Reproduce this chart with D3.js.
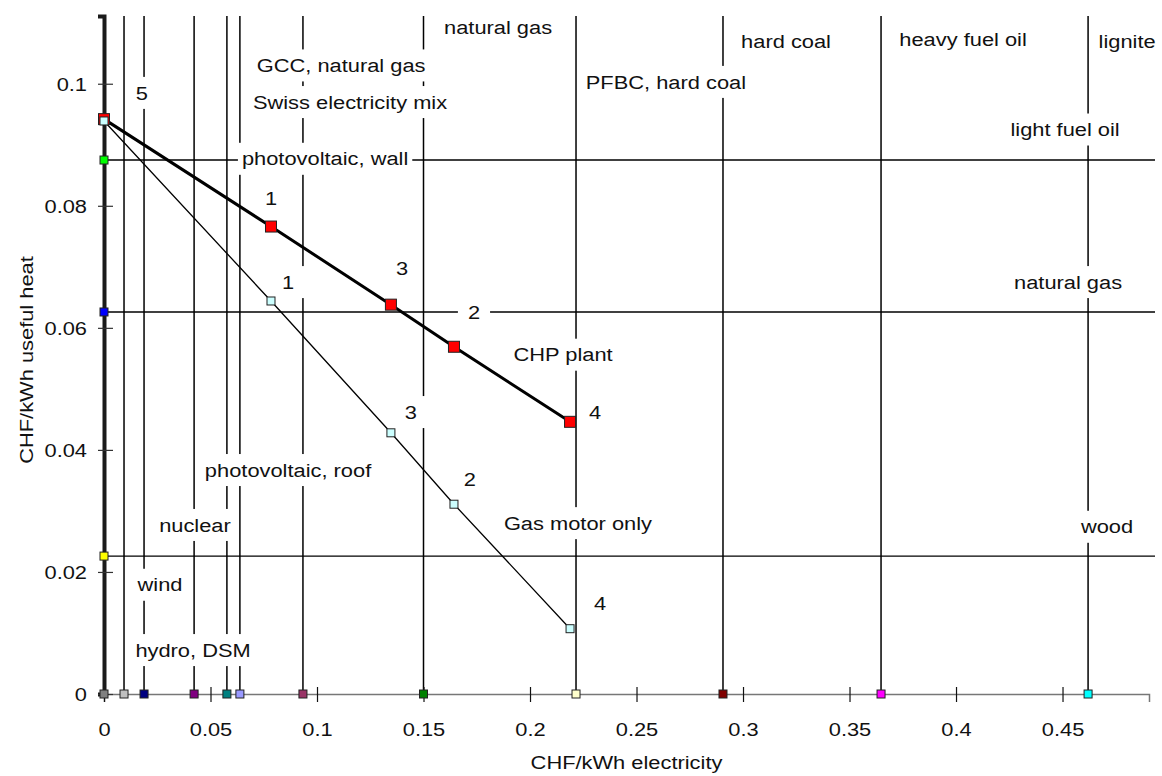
<!DOCTYPE html>
<html>
<head>
<meta charset="utf-8">
<script src="https://cdn.jsdelivr.net/npm/d3@7"></script>
<style>
  body { margin: 0; background: #fff; }
  svg { display: block; }
  text { font-family: "Liberation Sans", Arial, sans-serif; font-size: 19px; fill: #111; }
</style>
</head>
<body>
<div id="chart"></div>
<script>
// electricity options (vertical lines, markers on the x axis)
var elecNames = ['hydro, DSM', 'wind', 'nuclear', 'photovoltaic, roof', 'photovoltaic, wall',
  'Swiss electricity mix', 'GCC, natural gas', 'natural gas', 'PFBC, hard coal', 'hard coal',
  'heavy fuel oil', 'lignite'];
var elecCost = [0, 0.0094, 0.0188, 0.0423, 0.0577, 0.0638, 0.0934, 0.150, 0.2216, 0.2906, 0.3648, 0.462];
var elecColor = ['#808080', '#c0c0c0', '#000080', '#800080', '#008080', '#9999ff', '#993366',
  '#008000', '#ffffcc', '#800000', '#ff00ff', '#00ffff'];
// where each label sits, in data units [x, y]
var elecLabelAt = [[0.0418, 0.0072], [0.0263, 0.0179], [0.0427, 0.0277], [0.0864, 0.0367],
  [0.1038, 0.0877], [0.1155, 0.0970], [0.1113, 0.1030], [0.185, 0.1092], [0.2638, 0.1003],
  [0.3202, 0.1070], [0.4033, 0.1072], [0.4803, 0.1070]];

// heat options (horizontal lines, markers on the y axis)
var heatNames = ['light fuel oil', 'natural gas', 'wood'];
var heatCost = [0.0875, 0.0626, 0.0226];
var heatColor = ['#00ff00', '#0000ff', '#ffff00'];
var heatLabelAt = [[0.4512, 0.0925], [0.4526, 0.0675], [0.4709, 0.0274]];

// CHP plant and gas motor only, point 5 is the common start
var chpElec = [0, 0.0784, 0.1347, 0.1643, 0.2188];
var chpHeat = [0.0942, 0.0766, 0.0638, 0.0569, 0.0446];
var gasElec = [0, 0.0784, 0.1347, 0.1643, 0.2188];
var gasHeat = [0.0939, 0.0644, 0.0428, 0.0311, 0.0107];
var pointNames = ['5', '1', '3', '2', '4'];
var chpLabelAt = [[0.0178, 0.0985], [0.0784, 0.0813], [0.1399, 0.0698], [0.1737, 0.0626], [0.2305, 0.0462]];
var gasLabelAt = [null, [0.0864, 0.0675], [0.1441, 0.0462], [0.1718, 0.0351], [0.2329, 0.0149]];
var seriesNames = ['CHP plant', 'Gas motor only'];
var seriesLabelAt = [[0.2155, 0.0556], [0.2225, 0.0280]];

var xTickValues = [0, 0.05, 0.1, 0.15, 0.2, 0.25, 0.3, 0.35, 0.4, 0.45];
var xTickLabels = ['0', '0.05', '0.1', '0.15', '0.2', '0.25', '0.3', '0.35', '0.4', '0.45'];
var yTickValues = [0, 0.02, 0.04, 0.06, 0.08, 0.1];
var yTickLabels = ['0', '0.02', '0.04', '0.06', '0.08', '0.1'];

var width = 1162, height = 776;
var margin = { top: 16, right: 13, bottom: 82, left: 104 };
var stretch = 1.15; // the original text is a bit wide

var x = d3.scaleLinear().domain([0, 0.4906]).range([margin.left, width - margin.right]);
var y = d3.scaleLinear().domain([0, 0.1111]).range([height - margin.bottom, margin.top]);

var svg = d3.select('#chart').append('svg')
  .attr('width', width)
  .attr('height', height);

// vertical lines for the electricity options
svg.append('g').attr('class', 'elec_lines')
  .selectAll('line').data(elecCost).enter().append('line')
  .attr('x1', function(d){ return x(d); })
  .attr('x2', function(d){ return x(d); })
  .attr('y1', y(0))
  .attr('y2', y.range()[1])
  .attr('stroke', '#000')
  .attr('stroke-width', 1.5);

// horizontal lines for the heat options
svg.append('g').attr('class', 'heat_lines')
  .selectAll('line').data(heatCost).enter().append('line')
  .attr('x1', x(0))
  .attr('x2', x.range()[1] + 6)
  .attr('y1', function(d){ return y(d); })
  .attr('y2', function(d){ return y(d); })
  .attr('stroke', '#000')
  .attr('stroke-width', 1.3);

// labels with a white box behind, they cut the lines
var labels_g = svg.append('g').attr('class', 'labels');
function addLabel(txt, pos, padX){
  var px = x(pos[0]), py = y(pos[1]);
  var g = labels_g.append('g');
  var t = g.append('text')
    .attr('transform', 'translate(' + px + ',' + py + ') scale(' + stretch + ',1)')
    .attr('dy', '0.35em')
    .attr('text-anchor', 'middle')
    .text(txt);
  var w = t.node().getBBox().width * stretch;
  g.insert('rect', 'text')
    .attr('x', px - w / 2 - padX)
    .attr('y', py - 16)
    .attr('width', w + 2 * padX)
    .attr('height', 32)
    .attr('fill', '#fff');
}
elecNames.forEach(function(n, i){ addLabel(n, elecLabelAt[i], 4); });
heatNames.forEach(function(n, i){ addLabel(n, heatLabelAt[i], 4); });
pointNames.forEach(function(n, i){
  addLabel(n, chpLabelAt[i], 10);
  if (gasLabelAt[i]) addLabel(n, gasLabelAt[i], 10);
});
seriesNames.forEach(function(n, i){ addLabel(n, seriesLabelAt[i], 6); });

// x axis
var xAxis = d3.axisBottom(x)
  .tickValues(xTickValues)
  .tickFormat(function(d, i){ return xTickLabels[i]; })
  .tickSizeOuter(0)
  .tickSize(8);
var xg = svg.append('g')
  .attr('transform', 'translate(0,' + y(0) + ')')
  .call(xAxis);
xg.select('.domain').attr('stroke', '#777').attr('stroke-width', 1.5);
xg.selectAll('.tick line').attr('y1', -7).attr('stroke', '#111').attr('stroke-width', 1.2);
xg.selectAll('.tick text').attr('y', 42).attr('dy', 0)
  .attr('transform', 'scale(' + stretch + ',1)')
  .attr('fill', '#111').style('font-size', '19px').attr('font-family', null);

// y axis
var yAxis = d3.axisLeft(y)
  .tickValues(yTickValues)
  .tickFormat(function(d, i){ return yTickLabels[i]; })
  .tickSizeOuter(0)
  .tickSize(6);
var yg = svg.append('g')
  .attr('transform', 'translate(' + x(0) + ',0)')
  .call(yAxis);
yg.select('.domain').attr('stroke', '#1a1a1a').attr('stroke-width', 4);
yg.selectAll('.tick line').attr('x2', -6).attr('x1', 9).attr('stroke', '#333').attr('stroke-width', 1.2);
yg.selectAll('.tick text').attr('x', -17 / stretch).attr('dy', '0.35em')
  .attr('transform', 'scale(' + stretch + ',1)')
  .attr('fill', '#111').style('font-size', '19px').attr('font-family', null);

// axis titles
svg.append('text')
  .attr('transform', 'translate(' + ((x.range()[0] + x.range()[1]) / 2) + ',769) scale(' + stretch + ',1)')
  .attr('text-anchor', 'middle')
  .text('CHF/kWh electricity');
svg.append('text')
  .attr('transform', 'translate(33,360) rotate(-90) scale(' + stretch + ',1)')
  .attr('text-anchor', 'middle')
  .text('CHF/kWh useful heat');

// the two series
var line = d3.line()
  .x(function(d){ return x(d[0]); })
  .y(function(d){ return y(d[1]); });
var chpPts = d3.zip(chpElec, chpHeat);
var gasPts = d3.zip(gasElec, gasHeat);

svg.append('path').datum(gasPts)
  .attr('d', line)
  .attr('fill', 'none')
  .attr('stroke', '#000')
  .attr('stroke-width', 1.3);
svg.append('path').datum(chpPts)
  .attr('d', line)
  .attr('fill', 'none')
  .attr('stroke', '#000')
  .attr('stroke-width', 3);

function squares(data, size, fill){
  svg.append('g').selectAll('rect').data(data).enter().append('rect')
    .attr('x', function(d){ return x(d[0]) - size / 2; })
    .attr('y', function(d){ return y(d[1]) - size / 2; })
    .attr('width', size)
    .attr('height', size)
    .attr('fill', fill)
    .attr('stroke', '#222')
    .attr('stroke-width', 1);
}
squares(chpPts, 11, '#ff0000');
squares(gasPts, 8, '#ccffff');

// markers on the axes
svg.append('g').selectAll('rect').data(elecCost).enter().append('rect')
  .attr('x', function(d){ return x(d) - 4; })
  .attr('y', y(0) - 4)
  .attr('width', 8).attr('height', 8)
  .attr('fill', function(d, i){ return elecColor[i]; })
  .attr('stroke', '#222').attr('stroke-width', 1);
svg.append('g').selectAll('rect').data(heatCost).enter().append('rect')
  .attr('x', x(0) - 4)
  .attr('y', function(d){ return y(d) - 4; })
  .attr('width', 8).attr('height', 8)
  .attr('fill', function(d, i){ return heatColor[i]; })
  .attr('stroke', '#222').attr('stroke-width', 1);
</script>
</body>
</html>
